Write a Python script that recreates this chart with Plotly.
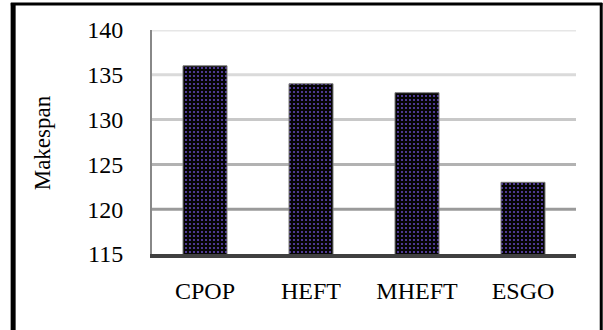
import plotly.graph_objects as go

# Makespan per scheduling algorithm
algorithms = ["CPOP", "HEFT", "MHEFT", "ESGO"]
makespan = [136, 134, 133, 123]

# y-axis ticks and the grid shade used at each level (lighter toward the top)
y_ticks = [115, 120, 125, 130, 135, 140]
grid_colors = ["#5a5a5a", "#9a9a9a", "#b2b2b2", "#c8c8c8", "#dadada", "#e6e6e6"]

FONT = "Liberation Serif"

fig = go.Figure()
fig.add_trace(go.Bar(
    x=algorithms,
    y=makespan,
    base=0,
    marker=dict(
        color="#050505",
        line=dict(color="#7a7a7a", width=1),
        pattern=dict(shape=".", fgcolor="#5f45b5", bgcolor="#050505",
                     size=4, solidity=0.22, fillmode="replace"),
    ),
    hoverinfo="x+y",
))

# horizontal grid lines drawn per tick so each can carry its own shade
for yv, col in zip(y_ticks[1:], grid_colors[1:]):
    fig.add_shape(type="line", xref="paper", yref="y", x0=0, x1=1, y0=yv, y1=yv,
                  line=dict(color=col, width=3), layer="below")

# outer frame around the whole figure
frame = dict(xref="paper", yref="paper", type="line")
fig.add_shape(**frame, x0=-0.3275, x1=-0.3275, y0=-0.4, y1=1.12, line=dict(color="black", width=5))
fig.add_shape(**frame, x0=-0.333, x1=1.062, y0=1.1165, y1=1.1165, line=dict(color="black", width=3))
fig.add_shape(**frame, x0=1.0595, x1=1.0595, y0=-0.4, y1=1.12, line=dict(color="black", width=3))

fig.add_annotation(text="Makespan", xref="paper", yref="paper", x=-0.259, y=0.495,
                   textangle=-90, showarrow=False, xanchor="center", yanchor="middle",
                   font=dict(family=FONT, size=23, color="black"))

fig.update_layout(
    width=603, height=330,
    margin=dict(l=152, r=27, t=30, b=76),
    paper_bgcolor="white", plot_bgcolor="white",
    bargap=0.585,
    showlegend=False,
    font=dict(family=FONT, size=24, color="black"),
    xaxis=dict(showline=True, linecolor="#404040", linewidth=4, showgrid=False,
               ticks="", ticklabelstandoff=12, automargin=False,
               tickfont=dict(family=FONT, size=24, color="black")),
    yaxis=dict(range=[115, 140], tickvals=y_ticks, showgrid=False, zeroline=False,
               showline=True, linecolor="#888888", linewidth=2, ticks="",
               ticklabelstandoff=22, automargin=False,
               tickfont=dict(family=FONT, size=24, color="black")),
)

fig.write_html("out.html")
